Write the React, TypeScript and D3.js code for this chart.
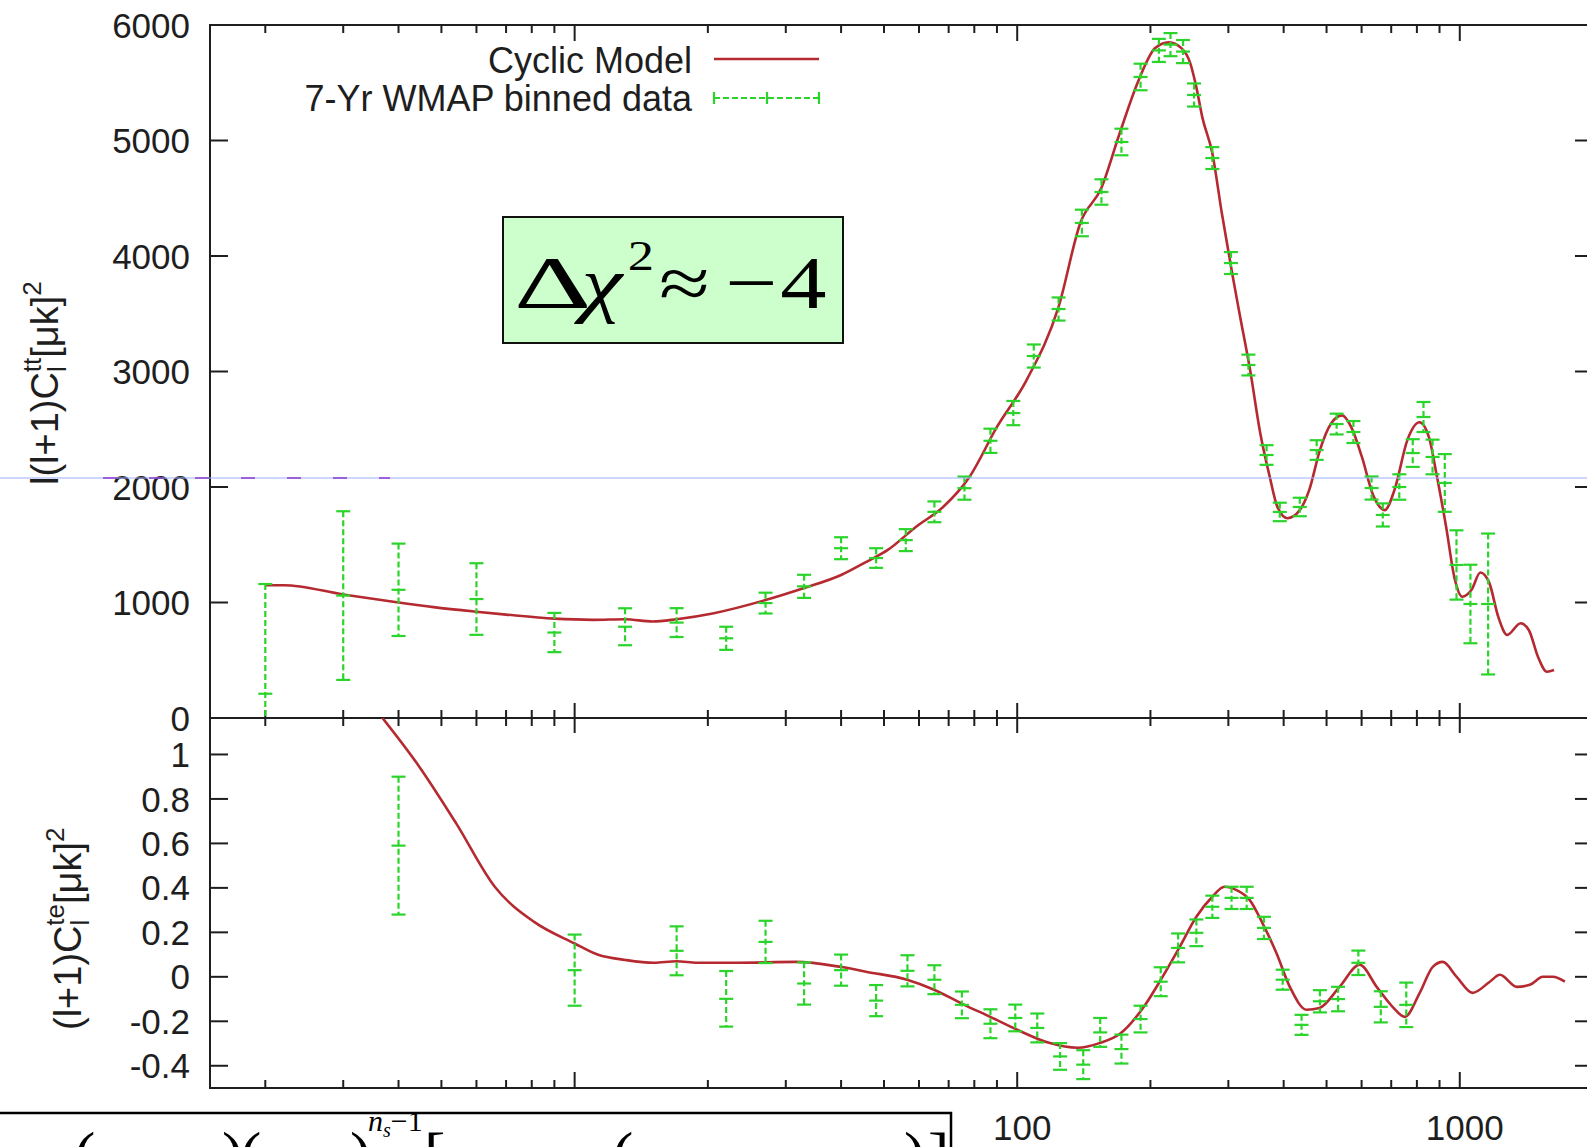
import React, { useRef, useEffect } from "react";
import * as d3 from "d3";

// Cyclic model, TT spectrum (multipole l, l(l+1)C_l in uK^2)
const ttModelL = [2, 2.2, 3, 4, 4.8, 6, 7, 9, 11, 13, 15, 17, 20.5, 27, 33, 40, 45.5, 51, 59, 68, 78, 90, 105, 124, 139, 155, 170, 188, 205, 220, 235, 246, 254, 262, 276, 290, 306, 318, 336, 354, 372, 387, 408, 435, 457, 483, 512, 542, 570, 601, 637, 677, 712, 762, 811, 852, 888, 932, 972, 1013, 1063, 1113, 1166, 1222, 1280, 1373, 1433, 1502, 1574, 1633];
const ttModelV = [1150, 1150, 1070, 1000, 960, 920, 895, 860, 850, 855, 835, 855, 905, 1021, 1125, 1238, 1350, 1455, 1654, 1827, 2087, 2520, 2926, 3560, 4290, 4590, 5050, 5520, 5800, 5850, 5800, 5670, 5460, 5200, 4890, 4370, 3850, 3500, 3010, 2470, 2090, 1830, 1730, 1800, 1975, 2320, 2550, 2620, 2510, 2260, 1930, 1800, 1975, 2410, 2560, 2430, 2090, 1650, 1220, 1050, 1110, 1260, 1170, 875, 720, 820, 760, 530, 400, 415];

// 7-yr WMAP binned TT data
const ttDataL = [2, 3, 4, 6, 9, 13, 17, 22, 27, 33, 40, 48, 56, 65, 76, 87, 98, 109, 124, 140, 155, 172, 190, 209, 222, 237, 251, 276, 304, 333, 366, 392, 435, 475, 527, 575, 632, 670, 730, 783, 828, 868, 925, 983, 1057, 1159];
const ttDataV = [210, 1060, 1110, 1030, 740, 790, 826, 690, 995, 1140, 1470, 1385, 1540, 1785, 1990, 2400, 2640, 3134, 3541, 4286, 4554, 4987, 5550, 5780, 5830, 5770, 5394, 4848, 3939, 3056, 2277, 1784, 1827, 2320, 2545, 2476, 1991, 1758, 2000, 2294, 2606, 2260, 2035, 1325, 987, 987];
const ttDataErr = [950, 730, 400, 310, 170, 160, 125, 100, 90, 100, 95, 85, 95, 90, 100, 105, 105, 100, 100, 115, 110, 115, 115, 100, 100, 100, 100, 95, 95, 90, 85, 80, 80, 85, 90, 95, 100, 100, 110, 120, 130, 150, 250, 300, 340, 610];

// Cyclic model, TE spectrum
const teModelL = [3.66, 4.46, 5.4, 6.6, 8.1, 10, 11.3, 13, 15.1, 17, 18.9, 23.3, 31.6, 39.8, 45.8, 56.4, 64.9, 75.9, 86.9, 100, 118, 137, 154, 171, 194, 213, 233, 254, 276, 294, 313, 335, 358, 385, 413, 451, 482, 535, 594, 649, 705, 751, 812, 869, 915, 984, 1069, 1169, 1232, 1346, 1440, 1541, 1623, 1728];
const teModelV = [1.17, 0.944, 0.69, 0.405, 0.247, 0.15, 0.099, 0.076, 0.063, 0.07, 0.063, 0.063, 0.067, 0.045, 0.022, -0.013, -0.058, -0.126, -0.18, -0.238, -0.297, -0.319, -0.297, -0.255, -0.13, 0, 0.135, 0.27, 0.36, 0.405, 0.39, 0.346, 0.243, 0.108, -0.045, -0.148, -0.14, -0.045, 0.054, -0.045, -0.135, -0.18, -0.072, 0.045, 0.067, 0.0, -0.072, -0.022, 0.009, -0.045, -0.036, 0.0, 0.0, -0.022];

// 7-yr WMAP binned TE data
const teDataL = [4, 10, 17, 22, 27, 33, 40, 48, 56.5, 65, 75, 87, 99, 111, 125, 141, 154, 172, 190, 211, 231, 254, 276, 305, 330, 361, 398, 439, 483, 531, 590, 663, 757];
const teDataV = [0.59, 0.03, 0.117, -0.099, 0.157, -0.03, 0.03, -0.107, 0.027, -0.013, -0.126, -0.211, -0.185, -0.23, -0.358, -0.395, -0.25, -0.325, -0.19, -0.022, 0.13, 0.198, 0.315, 0.355, 0.355, 0.22, -0.013, -0.216, -0.11, -0.1, 0.063, -0.135, -0.126];
const teDataErr = [0.31, 0.16, 0.11, 0.125, 0.095, 0.095, 0.07, 0.07, 0.07, 0.065, 0.06, 0.065, 0.06, 0.065, 0.06, 0.065, 0.065, 0.065, 0.06, 0.065, 0.065, 0.06, 0.05, 0.05, 0.05, 0.05, 0.045, 0.045, 0.05, 0.055, 0.055, 0.07, 0.1];

const ttTicks = [0, 1000, 2000, 3000, 4000, 5000, 6000];
const teTicks = [-0.4, -0.2, 0, 0.2, 0.4, 0.6, 0.8, 1];
const xMajor = [10, 100, 1000];
const xLabels = ["10", "100", "1000"];

const RED = "#b52a30";
const GREEN = "#2ad42a";
const INK = "#1e1e1e";
const SANS = "'Liberation Sans', Arial, Helvetica, sans-serif";
const SERIF = "'Liberation Serif', 'Times New Roman', Times, serif";

const App: React.FC = () => {
  const ref = useRef<SVGSVGElement | null>(null);

  useEffect(() => {
    if (!ref.current) return;
    const svg = d3.select(ref.current);
    svg.selectAll("*").remove();

    const left = 210, right = 1593, topY = 25, midY = 718, botY = 1088;

    const x = d3.scaleLog().domain([1.5, 2000]).range([left, right]);
    const yTT = d3.scaleLinear().domain([0, 6000]).range([midY, topY]);
    const yTE = d3.scaleLinear().domain([-0.5, 1.164]).range([botY, midY]);

    const defs = svg.append("defs");
    defs.append("clipPath").attr("id", "clipTT")
      .append("rect").attr("x", left).attr("y", topY).attr("width", right - left).attr("height", midY - topY);
    defs.append("clipPath").attr("id", "clipTE")
      .append("rect").attr("x", left).attr("y", midY).attr("width", right - left).attr("height", botY - midY);

    svg.append("rect").attr("width", 1587).attr("height", 1147).attr("fill", "#fff");

    // minor x ticks
    const minor: number[] = [];
    [1, 10, 100, 1000].forEach((k) => {
      for (let m = 2; m <= 9; m++) {
        const v = m * k;
        if (v > 1.5 && v < 2000) minor.push(v);
      }
    });

    const axes = svg.append("g").attr("stroke", INK).attr("stroke-width", 2);
    const tickX = (vals: number[], y0: number, len: number) => {
      axes.selectAll(null).data(vals).enter().append("line")
        .attr("x1", (d) => x(d)).attr("x2", (d) => x(d))
        .attr("y1", y0).attr("y2", y0 + len);
    };
    tickX(minor, topY, 8);
    tickX(xMajor, topY, 16);
    tickX(minor, midY - 8, 16);
    tickX(xMajor, midY - 15, 30);
    tickX(minor, botY, -8);
    tickX(xMajor, botY, -16);

    const tickY = (vals: number[], sc: d3.ScaleLinear<number, number>) => {
      axes.selectAll(null).data(vals).enter().append("line")
        .attr("x1", left).attr("x2", left + 18)
        .attr("y1", (d) => sc(d)).attr("y2", (d) => sc(d));
      axes.selectAll(null).data(vals).enter().append("line")
        .attr("x1", right - 18).attr("x2", right)
        .attr("y1", (d) => sc(d)).attr("y2", (d) => sc(d));
    };
    tickY(ttTicks, yTT);
    tickY(teTicks, yTE);

    // frames
    axes.append("rect").attr("x", left).attr("y", topY).attr("width", right - left).attr("height", botY - topY).attr("fill", "none");
    axes.append("line").attr("x1", left).attr("x2", right).attr("y1", midY).attr("y2", midY);

    // y tick labels
    const lab = svg.append("g").attr("font-family", SANS).attr("font-size", 35).attr("fill", INK).attr("text-anchor", "end");
    lab.selectAll(null).data(ttTicks).enter().append("text")
      .attr("x", 190).attr("y", (d) => yTT(d)).attr("dy", "0.36em").text((d) => String(d));
    lab.selectAll(null).data(teTicks).enter().append("text")
      .attr("x", 190).attr("y", (d) => yTE(d)).attr("dy", "0.36em").text((d) => String(d));
    lab.selectAll(null).data(xMajor).enter().append("text")
      .attr("text-anchor", "middle")
      .attr("x", (d) => x(d) + 5).attr("y", 1140).text((d, i) => xLabels[i]);

    // y axis titles
    const t1 = svg.append("text").attr("font-family", SANS).attr("font-size", 38).attr("fill", INK)
      .attr("transform", "translate(58,485) rotate(-90)");
    t1.append("tspan").text("l(l+1)C");
    t1.append("tspan").attr("font-size", 26).attr("dy", 8).text("l");
    t1.append("tspan").attr("font-size", 26).attr("dx", -6).attr("dy", -25).text("tt");
    t1.append("tspan").attr("dy", 17).text("[\u03bck]");
    t1.append("tspan").attr("font-size", 26).attr("dy", -17).text("2");

    const t2 = svg.append("text").attr("font-family", SANS).attr("font-size", 38).attr("fill", INK)
      .attr("transform", "translate(81,1030) rotate(-90)");
    t2.append("tspan").text("(l+1)C");
    t2.append("tspan").attr("font-size", 26).attr("dy", 8).text("l");
    t2.append("tspan").attr("font-size", 26).attr("dx", -6).attr("dy", -25).text("te");
    t2.append("tspan").attr("dy", 17).text("[\u03bck]");
    t2.append("tspan").attr("font-size", 26).attr("dy", -17).text("2");

    // error bars
    const errBars = (
      g: d3.Selection<SVGGElement, unknown, null, undefined>,
      ls: number[], vs: number[], es: number[], sc: d3.ScaleLinear<number, number>
    ) => {
      ls.forEach((l, i) => {
        const cx = x(l);
        const yc = sc(vs[i]);
        const y1 = sc(vs[i] + es[i]);
        const y2 = sc(vs[i] - es[i]);
        g.append("line").attr("x1", cx).attr("x2", cx).attr("y1", y1).attr("y2", y2)
          .attr("stroke-dasharray", "6,3");
        [y1, y2].forEach((yy) => {
          g.append("line").attr("x1", cx - 7).attr("x2", cx + 7).attr("y1", yy).attr("y2", yy);
        });
        g.append("line").attr("x1", cx - 7).attr("x2", cx + 7).attr("y1", yc).attr("y2", yc);
      });
    };

    const line = d3.line<[number, number]>().x((d) => d[0]).y((d) => d[1]).curve(d3.curveMonotoneX);

    const gTT = svg.append("g").attr("clip-path", "url(#clipTT)");
    gTT.append("path")
      .attr("d", line(ttModelL.map((l, i) => [x(l), yTT(ttModelV[i])] as [number, number])))
      .attr("fill", "none").attr("stroke", RED).attr("stroke-width", 2.6);
    errBars(gTT.append("g").attr("stroke", GREEN).attr("stroke-width", 2.2), ttDataL, ttDataV, ttDataErr, yTT);

    const gTE = svg.append("g").attr("clip-path", "url(#clipTE)");
    gTE.append("path")
      .attr("d", line(teModelL.map((l, i) => [x(l), yTE(teModelV[i])] as [number, number])))
      .attr("fill", "none").attr("stroke", RED).attr("stroke-width", 2.6);
    errBars(gTE.append("g").attr("stroke", GREEN).attr("stroke-width", 2.2), teDataL, teDataV, teDataErr, yTE);

    // legend
    const leg = svg.append("g").attr("font-family", SANS).attr("font-size", 36).attr("fill", INK).attr("text-anchor", "end");
    leg.append("text").attr("x", 692).attr("y", 73).text("Cyclic Model");
    leg.append("text").attr("x", 692).attr("y", 111).text("7-Yr WMAP binned data");
    svg.append("line").attr("x1", 714).attr("x2", 819).attr("y1", 59).attr("y2", 59)
      .attr("stroke", RED).attr("stroke-width", 2.6);
    const lg = svg.append("g").attr("stroke", GREEN).attr("stroke-width", 2.2);
    lg.append("line").attr("x1", 714).attr("x2", 819).attr("y1", 98).attr("y2", 98).attr("stroke-dasharray", "6,3");
    [714, 819].forEach((xx) => lg.append("line").attr("x1", xx).attr("x2", xx).attr("y1", 92).attr("y2", 104));
    lg.append("line").attr("x1", 767).attr("x2", 767).attr("y1", 92).attr("y2", 104);

    // delta chi^2 box
    svg.append("rect").attr("x", 503).attr("y", 217).attr("width", 340).attr("height", 126)
      .attr("fill", "#ccffcc").attr("stroke", "#111").attr("stroke-width", 2);
    const eq = svg.append("g").attr("transform", "translate(514,308) scale(1.25,1)")
      .attr("font-family", SERIF).attr("font-size", 74).attr("fill", "#000");
    eq.append("text").attr("transform", "scale(1.3,1)").text("\u0394");
    eq.append("text").attr("x", 54).attr("y", 0).attr("font-style", "italic").text("\u03c7");
    eq.append("text").attr("x", 91).attr("y", -38).attr("font-size", 42).text("2");
    eq.append("text").attr("x", 116).attr("y", 0).text("\u2248");
    eq.append("text").attr("x", 169).attr("y", 0).text("\u2212");
    eq.append("text").attr("x", 213).attr("y", 0).text("4");

    // guide line artefact
    svg.append("line").attr("x1", 0).attr("x2", 1587).attr("y1", 478).attr("y2", 478)
      .attr("stroke", "#9db0ff").attr("stroke-width", 1.2);
    svg.append("line").attr("x1", 103).attr("x2", 390).attr("y1", 478).attr("y2", 478)
      .attr("stroke", "#8a3ad0").attr("stroke-width", 1.5).attr("stroke-dasharray", "14,32");

    // formula box (cropped)
    svg.append("rect").attr("x", -2).attr("y", 1113).attr("width", 953).attr("height", 60)
      .attr("fill", "#fff").attr("stroke", "#000").attr("stroke-width", 2.5);
    const fm = svg.append("g").attr("font-family", SERIF).attr("font-size", 64).attr("fill", "#000");
    const glyphs: [string, number][] = [["(", 74], [")", 222], ["(", 240], [")", 350], ["[", 424], ["(", 612], [")", 904], ["]", 928]];
    glyphs.forEach(([s, gx]) => fm.append("text").attr("x", gx).attr("y", 1176).text(s));
    const ns = fm.append("text").attr("x", 368).attr("y", 1131).attr("font-size", 30);
    ns.append("tspan").attr("font-style", "italic").text("n");
    ns.append("tspan").attr("font-size", 20).attr("dy", 6).attr("font-style", "italic").text("s");
    ns.append("tspan").attr("dy", -6).text("\u22121");
  }, []);

  return (
    <svg
      ref={ref}
      width={1587}
      height={1147}
      style={{ position: "absolute", left: 0, top: 0, display: "block" }}
    />
  );
};

export default App;
